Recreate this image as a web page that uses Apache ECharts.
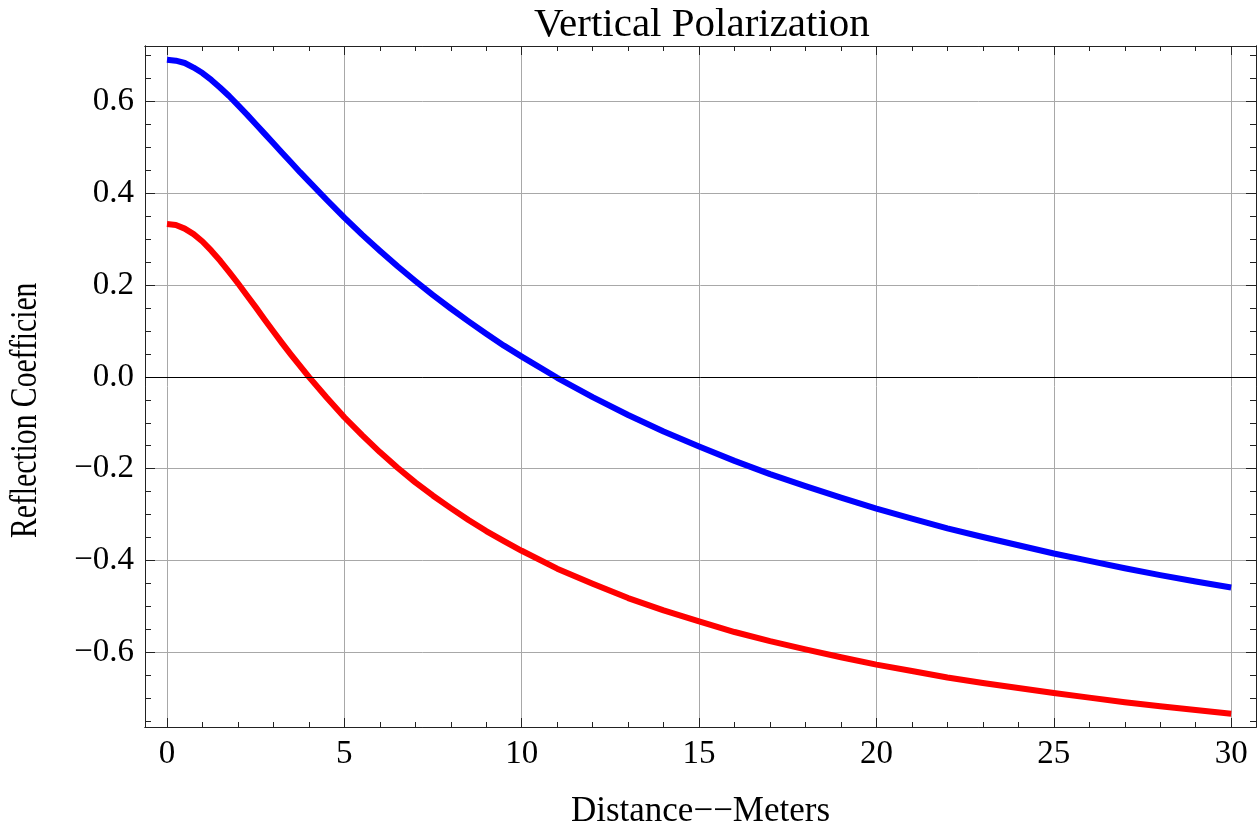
<!DOCTYPE html>
<html>
<head>
<meta charset="utf-8">
<script src="https://cdn.jsdelivr.net/npm/echarts@6/dist/echarts.min.js"></script>
<style>
  html, body { margin: 0; padding: 0; background: #fff; }
  #chart { width: 1258px; height: 834px; }
</style>
</head>
<body>
<div id="chart"></div>
<script>
// distance (m) and reflection coefficient
var distance = [0, 0.25, 0.5, 0.75, 1, 1.25, 1.5, 1.75, 2, 2.25, 2.5, 2.75, 3, 3.25, 3.5, 3.75, 4, 4.5, 5, 5.5, 6, 6.5, 7, 7.5,
                8, 8.5, 9, 9.5, 10, 11, 12, 13, 14, 15, 16, 17, 18, 19, 20, 21, 22, 23, 24, 25, 26, 27, 28, 29, 30];
var blueVals = [0.691, 0.689, 0.684, 0.674, 0.662, 0.647, 0.630, 0.612, 0.592, 0.572, 0.551, 0.530, 0.509, 0.488, 0.467, 0.446,
                0.426, 0.386, 0.347, 0.310, 0.275, 0.241, 0.209, 0.178, 0.149, 0.121, 0.094, 0.068, 0.044, -0.002,
                -0.044, -0.083, -0.119, -0.152, -0.183, -0.212, -0.238, -0.263, -0.287, -0.309, -0.330, -0.349,
                -0.367, -0.385, -0.401, -0.417, -0.432, -0.446, -0.459];
var redVals = [0.333, 0.331, 0.323, 0.311, 0.295, 0.275, 0.253, 0.229, 0.204, 0.178, 0.152, 0.125, 0.099, 0.073, 0.048, 0.024,
               0.000, -0.045, -0.088, -0.127, -0.164, -0.198, -0.230, -0.259, -0.286, -0.312, -0.336, -0.358, -0.379,
               -0.418, -0.451, -0.482, -0.509, -0.533, -0.556, -0.576, -0.594, -0.611, -0.627, -0.641, -0.655, -0.667,
               -0.678, -0.689, -0.699, -0.709, -0.718, -0.726, -0.734];

var xMajor = [0, 5, 10, 15, 20, 25, 30];
var xMinor = [1, 2, 3, 4, 6, 7, 8, 9, 11, 12, 13, 14, 16, 17, 18, 19, 21, 22, 23, 24, 26, 27, 28, 29];
var yMajor = [-0.6, -0.4, -0.2, 0.0, 0.2, 0.4, 0.6];
var yMinor = [-0.75, -0.7, -0.65, -0.55, -0.5, -0.45, -0.35, -0.3, -0.25, -0.15, -0.1, -0.05,
              0.05, 0.1, 0.15, 0.25, 0.3, 0.35, 0.45, 0.5, 0.55, 0.65, 0.7];

var FONT = '"Liberation Serif", "DejaVu Serif", serif';
var frameColor = '#222';
var gridColor = '#a8a8a8';

function pairs(xs, ys) {
  return xs.map(function (x, i) { return [x, ys[i]]; });
}

var X_MIN = -0.62, X_MAX = 30.7, Y_MIN = -0.763, Y_MAX = 0.721;

// one axis per tick set: major/minor on each side of the frame
function xAx(pos, ticks, len, opts) {
  return Object.assign({
    type: 'value', position: pos, min: X_MIN, max: X_MAX,
    axisLine: { show: true, onZero: false, lineStyle: { color: frameColor, width: 1 } },
    axisTick: { show: true, inside: true, length: len, customValues: ticks, lineStyle: { color: frameColor, width: 1 } },
    axisLabel: { show: false },
    splitLine: { show: false }
  }, opts || {});
}
function yAx(pos, ticks, len, opts) {
  return Object.assign({
    type: 'value', position: pos, min: Y_MIN, max: Y_MAX,
    axisLine: { show: true, onZero: false, lineStyle: { color: frameColor, width: 1 } },
    axisTick: { show: true, inside: true, length: len, customValues: ticks, lineStyle: { color: frameColor, width: 1 } },
    axisLabel: { show: false },
    splitLine: { show: false }
  }, opts || {});
}

var chart = echarts.init(document.getElementById('chart'));
chart.setOption({
  animation: false,
  backgroundColor: '#fff',
  title: {
    text: 'Vertical Polarization',
    left: 529, top: 0,
    textStyle: { fontFamily: FONT, fontSize: 41, fontWeight: 'normal', color: '#000' }
  },
  grid: { left: 145, top: 46, width: 1111, height: 687, containLabel: false },
  xAxis: [
    xAx('bottom', xMajor, 9, {
      name: 'Distance\u2212\u2212Meters',
      nameLocation: 'middle', nameGap: 67,
      nameTextStyle: { fontFamily: FONT, fontSize: 35, color: '#000' },
      axisLabel: { show: true, customValues: xMajor, margin: 11, fontFamily: FONT, fontSize: 33, color: '#000' },
      splitLine: { show: true, lineStyle: { color: gridColor, width: 1 } }
    }),
    xAx('bottom', xMinor, 5),
    xAx('top', xMajor, 9),
    xAx('top', xMinor, 5)
  ],
  yAxis: [
    yAx('left', yMajor, 10, {
      axisLabel: {
        show: true, customValues: yMajor, margin: 11, fontFamily: FONT, fontSize: 33, color: '#000',
        formatter: function (v) { return v.toFixed(1).replace('-', '\u2212'); }
      },
      splitLine: { show: true, lineStyle: { color: gridColor, width: 1 } }
    }),
    yAx('left', yMinor, 6),
    yAx('right', yMajor, 10),
    yAx('right', yMinor, 6)
  ],
  graphic: [{
    type: 'text',
    x: 26, y: 538,
    rotation: Math.PI / 2,
    scaleX: 0.78, scaleY: 1,
    style: {
      text: 'Reflection Coefficient',
      width: 334, overflow: 'truncate', ellipsis: '',
      font: '38px ' + FONT,
      fill: '#000',
      align: 'left', verticalAlign: 'middle'
    }
  }],
  series: [
    {
      type: 'line', xAxisIndex: 0, yAxisIndex: 0,
      data: pairs(distance, blueVals),
      smooth: false,
      showSymbol: false,
      lineStyle: { color: '#0000ff', width: 6, cap: 'butt', join: 'round' },
      markLine: {
        silent: true, symbol: 'none', label: { show: false },
        lineStyle: { color: '#000', width: 1, type: 'solid' },
        data: [{ yAxis: 0 }]
      },
      z: 3
    },
    {
      type: 'line', xAxisIndex: 0, yAxisIndex: 0,
      data: pairs(distance, redVals),
      smooth: false,
      showSymbol: false,
      lineStyle: { color: '#ff0000', width: 6, cap: 'butt', join: 'round' },
      z: 3
    }
  ]
});
</script>
</body>
</html>
